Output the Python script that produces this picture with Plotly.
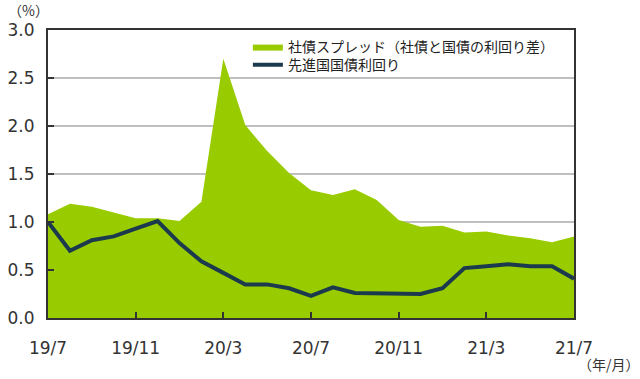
import plotly.graph_objects as go

months = ["19/7","19/8","19/9","19/10","19/11","19/12","20/1","20/2","20/3","20/4","20/5","20/6",
          "20/7","20/8","20/9","20/10","20/11","20/12","21/1","21/2","21/3","21/4","21/5","21/6","21/7"]
spread = [1.08,1.19,1.16,1.10,1.04,1.04,1.01,1.21,2.70,2.01,1.74,1.51,
          1.33,1.28,1.34,1.23,1.02,0.95,0.96,0.89,0.90,0.86,0.83,0.79,0.85]
yields = [1.00,0.70,0.81,0.85,0.93,1.01,0.78,0.59,0.47,0.35,0.35,0.31,
          0.23,0.32,0.26,0.26,0.25,0.25,0.31,0.52,0.54,0.56,0.54,0.54,0.41]
tick_labels = ["19/7","19/11","20/3","20/7","20/11","21/3","21/7"]
tick_pos = [months.index(t) for t in tick_labels]
x = list(range(len(months)))

font = "DejaVu Sans, Verdana, Noto Sans CJK JP"
cjk = "Noto Sans CJK JP"

fig = go.Figure()
fig.add_trace(go.Scatter(x=x, y=spread, mode="lines", fill="tozeroy",
                         line=dict(width=0, color="#99CC00"), fillcolor="#99CC00",
                         name="社債スプレッド（社債と国債の利回り差）", legend="legend"))
fig.add_trace(go.Scatter(x=x, y=yields, mode="lines",
                         line=dict(width=4, color="#1B3A4E"),
                         name="先進国国債利回り", legend="legend2"))

leg_common = dict(xanchor="left", yanchor="middle", bgcolor="rgba(0,0,0,0)",
                  font=dict(family=cjk, size=14, color="#222222"), itemwidth=30)

fig.update_layout(
    template="none",
    width=640, height=379,
    margin=dict(l=48, r=66, t=30, b=61),
    paper_bgcolor="white", plot_bgcolor="white",
    font=dict(family=font, size=14, color="#333333"),
    showlegend=True,
    legend=dict(x=0.38, y=0.941, **leg_common),
    legend2=dict(x=0.38, y=0.878, **leg_common),
    xaxis=dict(range=[0, 24], tickvals=tick_pos, ticktext=tick_labels, automargin=False,
               showgrid=False, zeroline=False, ticks="inside", ticklen=6, tickwidth=2,
               tickcolor="#333333", showline=True, linecolor="#333333", linewidth=2,
               mirror=True, ticklabelstandoff=14,
               tickfont=dict(family=font, size=17, color="#333333")),
    yaxis=dict(range=[0, 3], dtick=0.5, tickformat=".1f", automargin=False,
               showgrid=True, gridcolor="#BFBFBF", gridwidth=2, zeroline=False,
               ticks="inside", ticklen=6, tickwidth=2, tickcolor="#333333",
               showline=True, linecolor="#333333", linewidth=2, mirror=True,
               ticklabelstandoff=8,
               tickfont=dict(family=font, size=17, color="#333333")),
    annotations=[
        dict(text="（%）", x=0, y=1, xref="paper", yref="paper", xshift=-20, yshift=20,
             xanchor="center", yanchor="middle", showarrow=False,
             font=dict(family=cjk, size=14, color="#333333")),
        dict(text="（年/月）", x=1, y=0, xref="paper", yref="paper", xshift=35, yshift=-46,
             xanchor="center", yanchor="middle", showarrow=False,
             font=dict(family=cjk, size=14, color="#333333")),
    ],
)

fig.write_html("out.html", config={"displayModeBar": False},
               post_script="document.body.style.margin='0';document.body.style.overflow='hidden';")
